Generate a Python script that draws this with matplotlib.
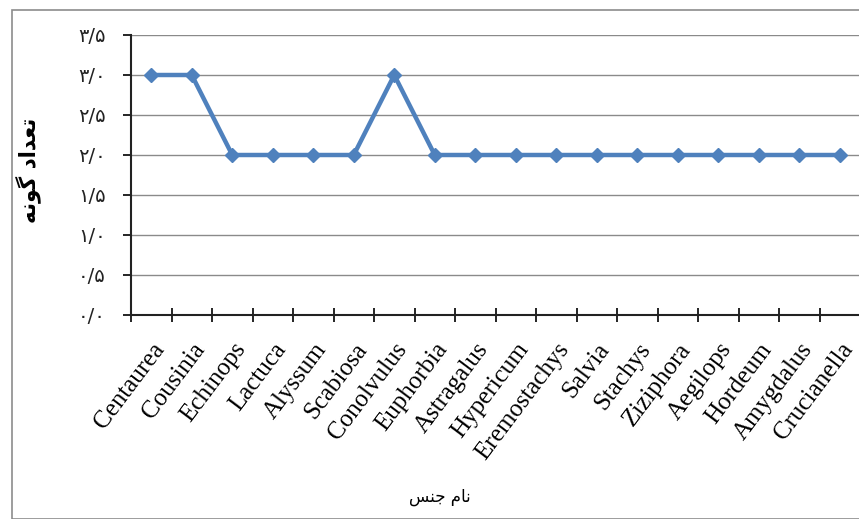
import matplotlib
matplotlib.use("Agg")
import matplotlib.pyplot as plt
from matplotlib.patches import Rectangle
from matplotlib.transforms import ScaledTranslation

# genus names and number of species per genus
genera = ["Centaurea", "Cousinia", "Echinops", "Lactuca", "Alyssum", "Scabiosa",
          "Conolvulus", "Euphorbia", "Astragalus", "Hypericum", "Eremostachys",
          "Salvia", "Stachys", "Ziziphora", "Aegilops", "Hordeum", "Amygdalus",
          "Crucianella"]
species_count = [3, 3, 2, 2, 2, 2, 3, 2, 2, 2, 2, 2, 2, 2, 2, 2, 2, 2]

y_ticks = [0, 0.5, 1.0, 1.5, 2.0, 2.5, 3.0, 3.5]

# Persian labels, written in visual order with presentation forms
y_title = "\uFEEA\uFEE7\uFEEE\uFB94 \uFEA9\uFE8D\uFEAA\uFECC\uFE97"   # تعداد گونه
x_title = "\uFEB2\uFEE8\uFE9F \uFEE1\uFE8E\uFEE7"                     # نام جنس

FA_DIGITS = str.maketrans("0123456789", "۰۱۲۳۴۵۶۷۸۹")


def fa_num(v):
    return f"{v:.1f}".replace(".", "/").translate(FA_DIGITS)


W, H = 859, 519
fig = plt.figure(figsize=(W / 100, H / 100), dpi=100)

# outer chart border
fig.patches.append(Rectangle((12 / W, 0), 1, 1 - 10 / H, transform=fig.transFigure,
                             fill=False, edgecolor="#8c8c8c", linewidth=1.2))

ax = fig.add_axes([131 / W, 1 - 315 / H, (860 - 131) / W, (315 - 35) / H])

x = list(range(len(genera)))
ax.plot(x, species_count, color="#4F81BD", linewidth=3.2, marker="D",
        markersize=7.5, markeredgecolor="#4F81BD", markerfacecolor="#4F81BD", zorder=3)

ax.set_xlim(-0.5, len(genera) - 0.5)
ax.set_ylim(0, 3.5)

ax.set_yticks(y_ticks)
ax.set_yticklabels([fa_num(v) for v in y_ticks], fontfamily="DejaVu Sans",
                   fontsize=14, color="#222222")
ax.yaxis.grid(True, color="#8a8a8a", linewidth=1.0)
ax.set_axisbelow(True)

# category boundaries get the ticks, names sit at the centres
ax.set_xticks([i - 0.5 for i in range(len(genera) + 1)])
ax.set_xticklabels([])
ax.set_xticks(x, minor=True)
labels = ax.set_xticklabels(genera, minor=True, rotation=53, ha="right", va="top",
                            rotation_mode="anchor", fontfamily="Liberation Serif",
                            fontsize=18)
shift = ScaledTranslation(7 / 100, 0, fig.dpi_scale_trans)
for lab in labels:
    lab.set_transform(lab.get_transform() + shift)
ax.tick_params(axis="x", which="minor", length=0, pad=17)
ax.tick_params(axis="x", which="major", direction="inout", length=10, width=1.2)
ax.tick_params(axis="y", direction="out", length=6, width=1.2, pad=12)

for side in ("top", "right"):
    ax.spines[side].set_visible(False)
for side in ("left", "bottom"):
    ax.spines[side].set_linewidth(1.5)
    ax.spines[side].set_color("#222222")

fig.text(28 / W, 1 - 170 / H, y_title, rotation=90, ha="center", va="center",
         fontfamily="DejaVu Sans", fontsize=15.5, fontweight="bold")
fig.text(440 / W, 1 - 497 / H, x_title, ha="center", va="center",
         fontfamily="DejaVu Sans", fontsize=12)

fig.savefig("out.png", dpi=100)
